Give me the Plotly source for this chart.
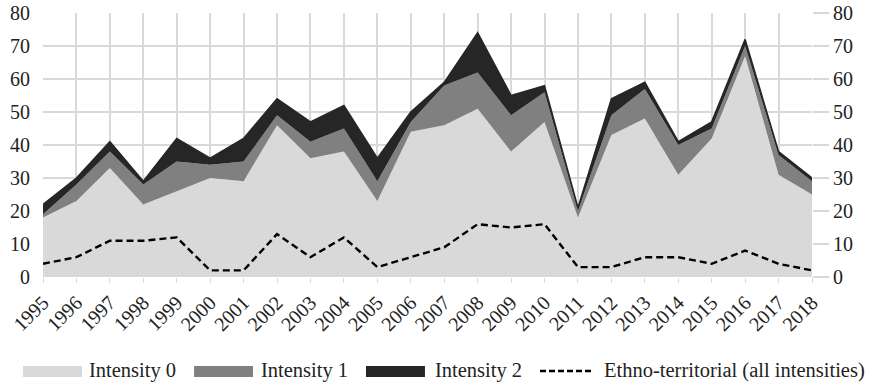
import plotly.graph_objects as go

years = list(range(1995, 2019))
intensity0 = [18, 23, 33, 22, 26, 30, 29, 46, 36, 38, 23, 44, 46, 51, 38, 47, 18, 43, 48, 31, 42, 67, 31, 25]
intensity1 = [1, 5, 5, 6, 9, 4, 6, 3, 5, 7, 6, 3, 12, 11, 11, 9, 2, 6, 9, 9, 3, 3, 6, 4]
intensity2 = [3, 2, 3, 1, 7, 2, 7, 5, 6, 7, 7, 3, 1, 12, 6, 2, 1, 5, 2, 1, 2, 2, 1, 1]
ethno = [4, 6, 11, 11, 12, 2, 2, 13, 6, 12, 3, 6, 9, 16, 15, 16, 3, 3, 6, 6, 4, 8, 4, 2]
y_ticks = [0, 10, 20, 30, 40, 50, 60, 70, 80]
series_names = ["Intensity 0", "Intensity 1", "Intensity 2", "Ethno-territorial (all intensities)"]

FONT = "'Liberation Serif', 'Times New Roman', serif"
GRID = "#d9d9d9"
TXT = "#222222"
C0, C1, C2 = "#d9d9d9", "#808080", "#262626"
DASH = "7px,4px"

fig = go.Figure()
fig.add_trace(go.Scatter(x=years, y=intensity0, name=series_names[0], mode="lines",
                         stackgroup="one", line=dict(width=0, color=C0), fillcolor=C0))
fig.add_trace(go.Scatter(x=years, y=intensity1, name=series_names[1], mode="lines",
                         stackgroup="one", line=dict(width=0, color=C1), fillcolor=C1))
fig.add_trace(go.Scatter(x=years, y=intensity2, name=series_names[2], mode="lines",
                         stackgroup="one", line=dict(width=1.5, color=C2), fillcolor=C2))
fig.add_trace(go.Scatter(x=years, y=ethno, name=series_names[3],
                         mode="lines", line=dict(width=2.4, color="black", dash=DASH)))
# invisible trace for right axis
fig.add_trace(go.Scatter(x=[years[0]], y=[0], yaxis="y2", mode="lines",
                         showlegend=False, hoverinfo="skip",
                         line=dict(width=0, color="rgba(0,0,0,0)")))

# manual legend (paper coordinates) to match the reference's spacing
sw_y0, sw_y1, leg_y = -0.379, -0.337, -0.356
swatches = [(-0.026, 0.0507, C0), (0.1964, 0.2731, C1), (0.420, 0.4967, C2)]
for x0, x1, c in swatches:
    fig.add_shape(type="rect", xref="paper", yref="paper", x0=x0, x1=x1, y0=sw_y0, y1=sw_y1,
                  fillcolor=c, line=dict(width=0))
fig.add_shape(type="line", xref="paper", yref="paper", x0=0.6463, x1=0.7152, y0=leg_y, y1=leg_y,
              line=dict(color="black", width=2.4, dash="6px,3px"))
text_x = [0.0572, 0.2809, 0.5072, 0.7269]
for tx, name in zip(text_x, series_names):
    fig.add_annotation(xref="paper", yref="paper", x=tx, y=leg_y, text=name, showarrow=False,
                       xanchor="left", yanchor="middle",
                       font=dict(family=FONT, size=20.5, color=TXT))

fig.update_layout(
    width=873, height=385,
    margin=dict(l=43, r=61, t=13, b=108),
    paper_bgcolor="white", plot_bgcolor="white",
    font=dict(family=FONT, size=20, color=TXT),
    showlegend=False,
    xaxis=dict(range=[1995, 2018], tickmode="array", tickvals=years,
               ticktext=[str(y) for y in years], tickangle=-45, automargin=False,
               showgrid=True, gridcolor=GRID, gridwidth=1.5,
               ticks="outside", ticklen=5, tickcolor=GRID,
               zeroline=False, showline=False, ticklabeloverflow="allow",
               tickfont=dict(family=FONT, size=20, color=TXT)),
    yaxis=dict(range=[0, 80], tickvals=y_ticks, showgrid=True, gridcolor=GRID,
               gridwidth=1.5, zeroline=False, showline=False, automargin=False,
               ticks="outside", ticklen=8, tickcolor="rgba(0,0,0,0)",
               ticklabeloverflow="allow",
               tickfont=dict(family=FONT, size=20, color=TXT)),
    yaxis2=dict(range=[0, 80], tickvals=y_ticks, overlaying="y", side="right",
                showgrid=False, zeroline=False, showline=False, automargin=False,
                ticks="outside", ticklen=16, tickcolor=GRID, tickwidth=1.5,
                ticklabeloverflow="allow",
                tickfont=dict(family=FONT, size=20, color=TXT)),
)

fig.write_html("out.html", config={"displayModeBar": False},
               post_script="document.body.style.margin='0px';")
